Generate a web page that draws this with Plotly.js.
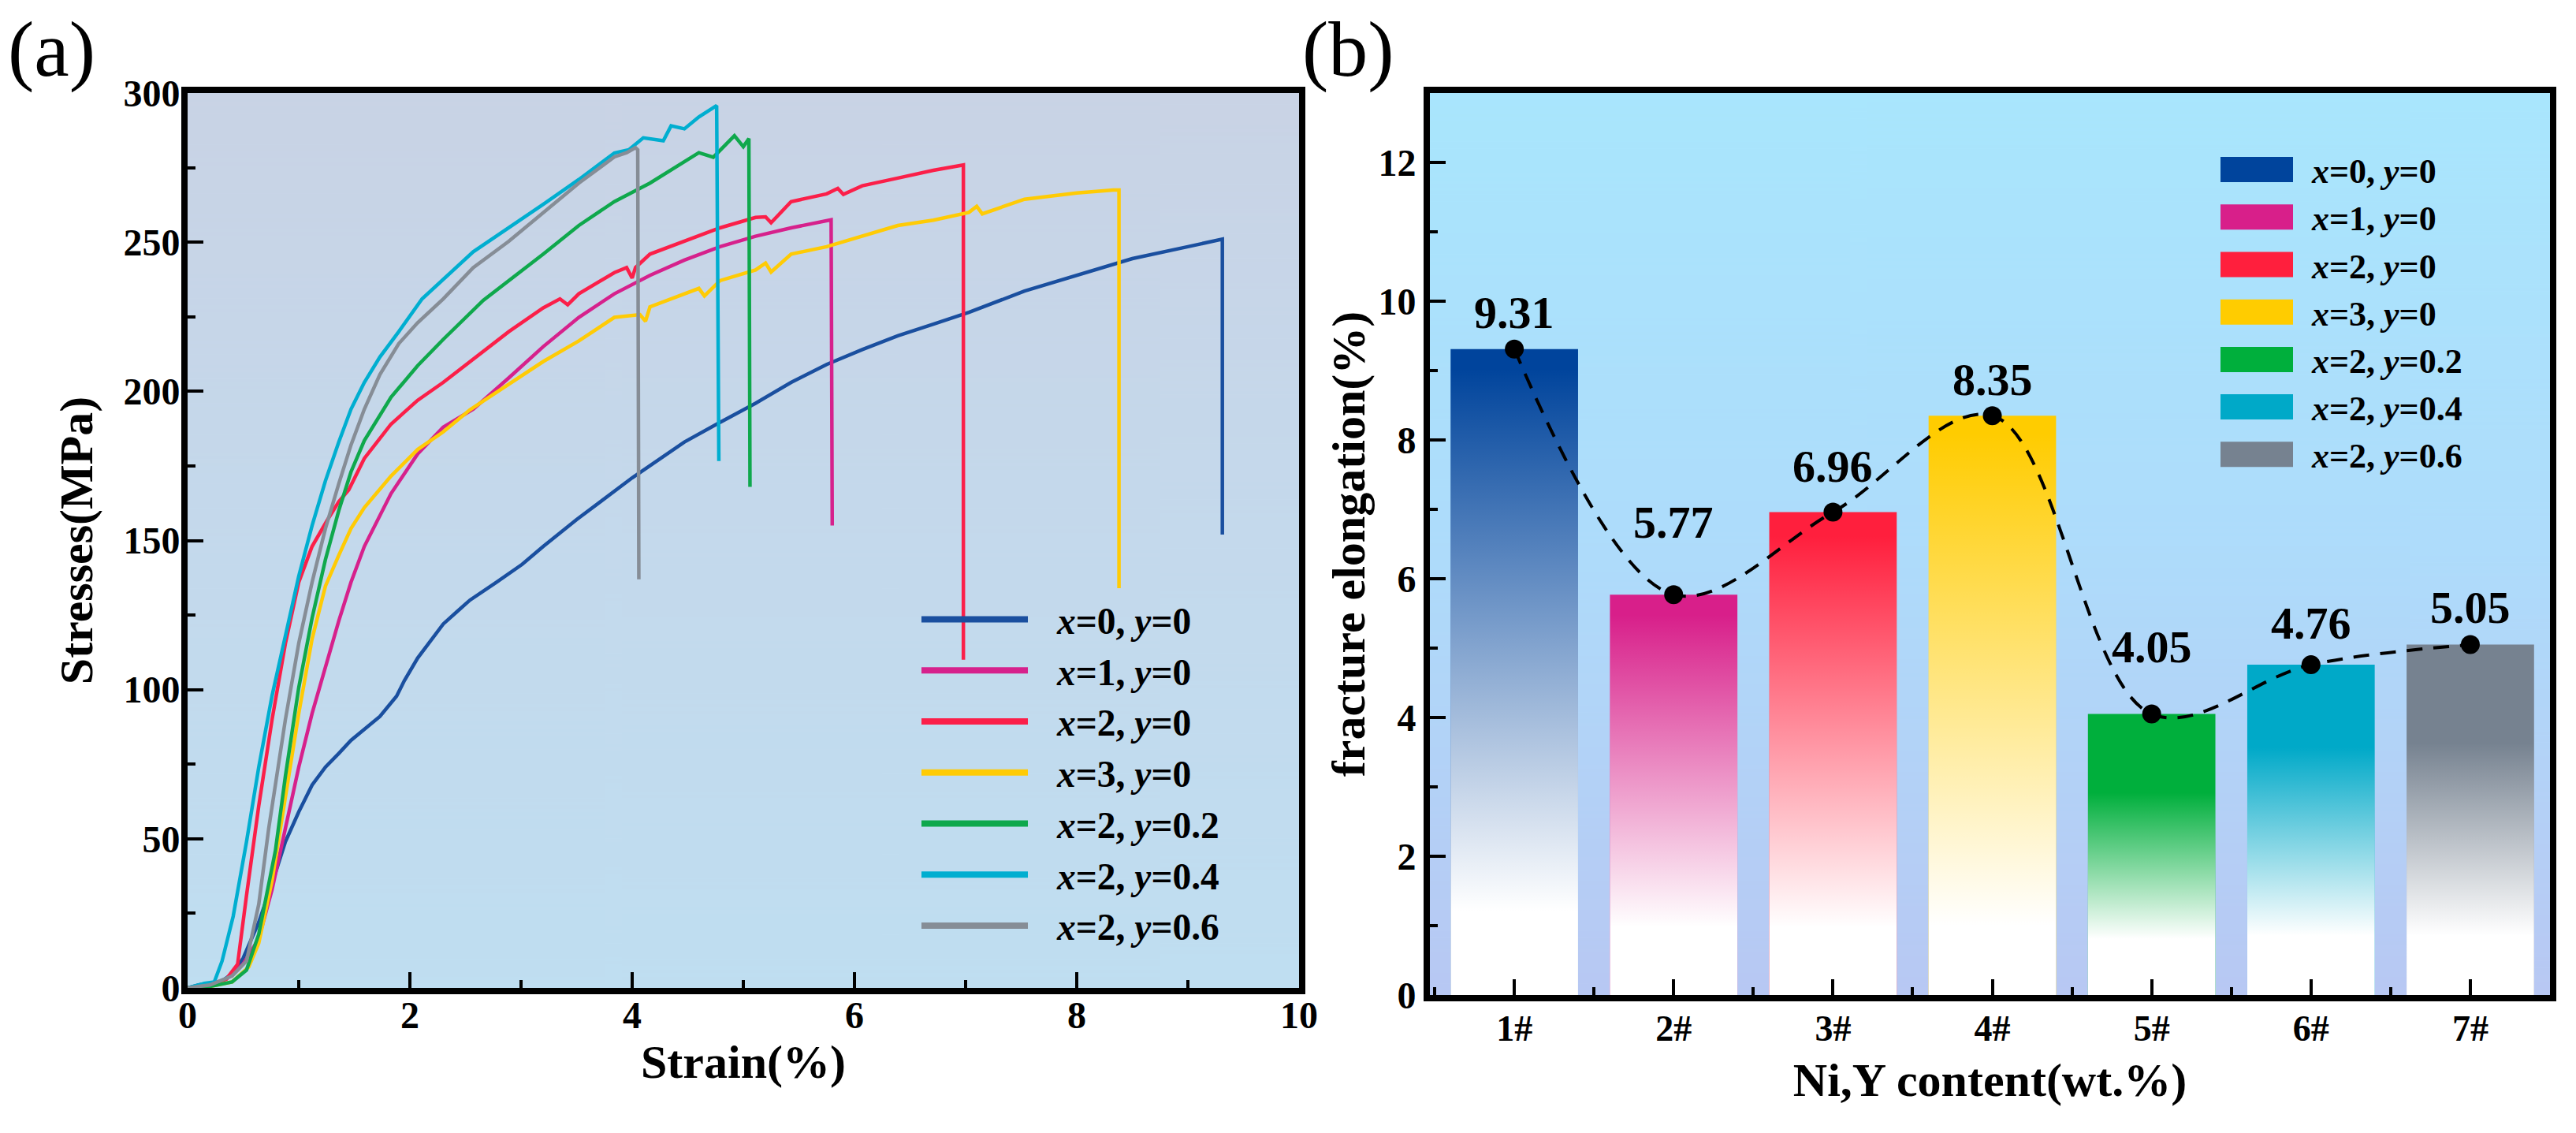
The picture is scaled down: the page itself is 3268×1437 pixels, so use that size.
<!DOCTYPE html>
<html>
<head>
<meta charset="utf-8">
<script src="https://cdn.plot.ly/plotly-3.0.1.min.js"></script>
<style>
  html, body { margin: 0; padding: 0; background: #ffffff; }
  #chart { width: 3268px; height: 1437px; }
</style>
</head>
<body>
<div id="chart"></div>
<script>
// ---------------- DATA: panel (a) stress-strain curves ----------------
const seriesNames = [
  '<i>x</i>=0, <i>y</i>=0', '<i>x</i>=1, <i>y</i>=0', '<i>x</i>=2, <i>y</i>=0', '<i>x</i>=3, <i>y</i>=0',
  '<i>x</i>=2, <i>y</i>=0.2', '<i>x</i>=2, <i>y</i>=0.4', '<i>x</i>=2, <i>y</i>=0.6'
];

const strain_x0y0 = [0, 0.1, 0.2, 0.3, 0.41, 0.5, 0.64, 0.76, 0.88, 1.0, 1.12, 1.24, 1.36, 1.47, 1.59, 1.73, 1.88, 1.95, 2.07, 2.18, 2.30, 2.42, 2.54, 2.78, 3.01, 3.2, 3.5, 4.0, 4.47, 4.76, 5.11, 5.43, 5.75, 6.07, 6.39, 6.71, 7.03, 7.53, 8.0, 8.5, 9.0, 9.29, 9.31, 9.31];
const stress_x0y0 = [0, 1, 1.5, 2, 5, 10, 22, 35, 49, 59, 68, 74, 78.6, 83, 86.7, 91, 97.8, 103, 110.6, 116, 122, 126, 130, 136, 142, 148, 157, 171, 183, 189, 196, 203, 209, 214, 218.6, 222.5, 226.5, 233.6, 239, 244.5, 248.5, 251, 251, 152];

const strain_x1y0 = [0, 0.2, 0.35, 0.5, 0.64, 0.76, 0.88, 1.0, 1.12, 1.24, 1.36, 1.47, 1.59, 1.83, 2.07, 2.30, 2.57, 2.89, 3.2, 3.52, 3.84, 4.16, 4.47, 4.79, 5.11, 5.43, 5.75, 5.79, 5.80];
const stress_x1y0 = [0, 1, 3, 8, 16.5, 33, 53.5, 74, 92, 108, 123, 136, 148, 165.7, 179, 188, 194, 204.5, 215, 224.8, 232.7, 238.9, 244, 248.5, 252, 254.8, 257, 257.5, 155];

const strain_x2y0 = [0, 0.2, 0.35, 0.45, 0.53, 0.64, 0.76, 0.88, 1.0, 1.12, 1.26, 1.36, 1.45, 1.59, 1.83, 2.07, 2.30, 2.57, 2.89, 3.2, 3.35, 3.42, 3.52, 3.84, 3.95, 4.0, 4.03, 4.16, 4.47, 4.79, 5.11, 5.2, 5.25, 5.43, 5.75, 5.85, 5.9, 6.07, 6.39, 6.71, 6.98, 6.98];
const stress_x2y0 = [0, 1, 3, 8, 31, 61, 90, 115.5, 136, 148, 157, 163, 167, 177.5, 189, 197, 203, 210.7, 220, 228, 231, 229, 232.7, 239.8, 241.5, 238, 241.5, 246, 250.3, 254.8, 258.3, 258.5, 256.5, 263.6, 266.2, 268, 266, 268.9, 271.5, 274.1, 275.9, 110];

const strain_x3y0 = [0, 0.2, 0.4, 0.55, 0.64, 0.76, 0.88, 1.0, 1.12, 1.24, 1.36, 1.47, 1.59, 1.83, 2.07, 2.30, 2.54, 2.78, 3.2, 3.52, 3.84, 4.07, 4.12, 4.16, 4.47, 4.6, 4.65, 4.79, 5.11, 5.2, 5.25, 5.43, 5.75, 6.07, 6.39, 6.71, 7.03, 7.1, 7.15, 7.53, 8.0, 8.33, 8.38, 8.38];
const stress_x3y0 = [0, 0.5, 2, 7, 15, 36, 64, 92, 117, 134.7, 145, 154, 161, 171.6, 180.5, 186.4, 193.8, 199.7, 210, 216.9, 224.8, 225.7, 223.5, 228.3, 232.8, 234.5, 232, 237.1, 240.7, 243, 240, 246, 248.5, 252, 255.6, 257.4, 260, 262, 259.5, 264.4, 266.5, 267.5, 267.5, 134];

const strain_x2y02 = [0, 0.2, 0.4, 0.53, 0.64, 0.79, 0.88, 1.0, 1.12, 1.24, 1.36, 1.47, 1.59, 1.71, 1.83, 2.07, 2.30, 2.66, 2.89, 3.2, 3.52, 3.84, 4.16, 4.47, 4.6, 4.73, 4.92, 5.0, 5.05, 5.06];
const stress_x2y02 = [0, 0.5, 2, 6, 18, 46, 71, 100.7, 124, 143.6, 160, 173, 183.5, 191, 198, 208.6, 217.4, 230.5, 237, 246, 255.6, 263.6, 269.8, 276.8, 280, 278.5, 285.7, 282, 284.7, 168];

const strain_x2y04 = [0, 0.15, 0.24, 0.31, 0.41, 0.53, 0.64, 0.76, 0.88, 1.0, 1.12, 1.24, 1.36, 1.47, 1.59, 1.73, 1.90, 2.11, 2.57, 2.89, 3.2, 3.52, 3.84, 3.97, 4.1, 4.28, 4.35, 4.47, 4.6, 4.76, 4.78];
const stress_x2y04 = [0, 1.5, 2, 9, 24, 49, 74, 98, 118, 138, 155, 170, 183, 194, 203, 211.5, 220, 231, 246.8, 254.8, 262.7, 271, 279.9, 281, 285, 284, 289, 288, 292, 295.8, 176.6];

const strain_x2y06 = [0, 0.2, 0.4, 0.53, 0.64, 0.73, 0.88, 1.0, 1.12, 1.24, 1.36, 1.47, 1.59, 1.73, 1.90, 2.07, 2.30, 2.57, 2.89, 3.2, 3.52, 3.84, 3.95, 4.03, 4.05, 4.06];
const stress_x2y06 = [0, 1, 4, 9, 28, 53.5, 90, 115.5, 136, 154, 169, 182, 194, 205.6, 216, 223, 231, 241.5, 250.3, 260, 269.8, 278.6, 280, 281.7, 281, 137];

// ---------------- DATA: panel (b) fracture elongation ----------------
const sampleLabels = ['1#', '2#', '3#', '4#', '5#', '6#', '7#'];
const elongation = [9.31, 5.77, 6.96, 8.35, 4.05, 4.76, 5.05];

// ---------------- STYLES ----------------
const lineColors = ['#1a4f9f', '#d6218c', '#fb1f49', '#ffcb05', '#0fa84c', '#00aed0', '#868d96'];
const barColors = ['#00449c', '#d81f8a', '#ff1f3d', '#ffcc00', '#00af3c', '#00a9c8', '#768290'];
const fadeWhiteTo = [0.13, 0.17, 0.14, 0.12, 0.20, 0.18, 0.17];
const fadeFullFrom = [0.97, 0.95, 0.95, 0.97, 0.72, 0.75, 0.72];
const labelShift = [46, 92, 58, 46, 85, 53, 47];

const FONT = 'Liberation Serif';

function gradientImage(stops) {
  const c = document.createElement('canvas');
  c.width = 4; c.height = 512;
  const ctx = c.getContext('2d');
  const g = ctx.createLinearGradient(0, 0, 0, 512);
  stops.forEach(s => g.addColorStop(s[0], s[1]));
  ctx.fillStyle = g;
  ctx.fillRect(0, 0, 4, 512);
  return c.toDataURL('image/png');
}

const strains = [strain_x0y0, strain_x1y0, strain_x2y0, strain_x3y0, strain_x2y02, strain_x2y04, strain_x2y06];
const stresses = [stress_x0y0, stress_x1y0, stress_x2y0, stress_x3y0, stress_x2y02, stress_x2y04, stress_x2y06];

const data = [];
strains.forEach((sx, i) => {
  data.push({
    type: 'scatter', mode: 'lines', x: sx, y: stresses[i],
    name: seriesNames[i], legend: 'legend',
    line: { color: lineColors[i], width: 4.5 },
    xaxis: 'x', yaxis: 'y', hoverinfo: 'skip'
  });
});

const idx = sampleLabels.map((_, i) => i);
const BW = 0.8;
// bars (solid top colour)
idx.forEach(i => {
  data.push({
    type: 'bar', x: [idx[i]], y: [elongation[i]], width: BW,
    name: seriesNames[i], legend: 'legend2',
    marker: { color: barColors[i], line: { width: 0 } },
    xaxis: 'x2', yaxis: 'y2', hoverinfo: 'skip'
  });
});
// white fade overlay for each bar, built from the same values
idx.forEach(i => {
  const l = idx[i] - BW / 2, r = idx[i] + BW / 2, v = elongation[i];
  data.push({
    type: 'scatter', mode: 'none', fill: 'toself',
    x: [l, l, r, r, l], y: [0, v, v, 0, 0],
    fillgradient: {
      type: 'vertical',
      colorscale: [[0, 'rgba(255,255,255,1)'], [fadeWhiteTo[i], 'rgba(255,255,255,1)'],
                   [fadeFullFrom[i], 'rgba(255,255,255,0)'], [1, 'rgba(255,255,255,0)']]
    },
    showlegend: false, xaxis: 'x2', yaxis: 'y2', hoverinfo: 'skip'
  });
});
// dashed trend line with markers
data.push({
  type: 'scatter', mode: 'lines+markers', x: idx, y: elongation,
  line: { shape: 'spline', smoothing: 1, color: '#000', width: 4, dash: '20px,14px' },
  marker: { color: '#000', size: 24 },
  showlegend: false, xaxis: 'x2', yaxis: 'y2', hoverinfo: 'skip'
});

const W = 3268, H = 1437;
const px = v => v / W, py = v => 1 - v / H;

const annotations = idx.map(i => ({
  xref: 'x2', yref: 'y2', x: idx[i], y: elongation[i],
  text: elongation[i].toFixed(2), showarrow: false,
  yanchor: 'middle', xanchor: 'center', yshift: labelShift[i],
  font: { family: FONT, size: 58, color: '#000', weight: 'bold' }
}));
annotations.push({ xref: 'paper', yref: 'paper', x: px(8), y: py(62), xanchor: 'left', yanchor: 'middle',
  text: '(a)', showarrow: false, font: { family: FONT, size: 100, color: '#000', weight: 'normal' } });
annotations.push({ xref: 'paper', yref: 'paper', x: px(1650), y: py(62), xanchor: 'left', yanchor: 'middle',
  text: '(b)', showarrow: false, font: { family: FONT, size: 100, color: '#000', weight: 'normal' } });

const axisCommon = {
  showline: true, linewidth: 8, linecolor: '#000', mirror: true,
  ticks: 'inside', ticklen: 20, tickwidth: 4, tickcolor: '#000',
  showgrid: false, zeroline: false, automargin: false,
  tickfont: { family: FONT, size: 48, color: '#000', weight: 'bold' }
};

const layout = {
  width: W, height: H,
  margin: { l: 0, r: 0, t: 0, b: 0 },
  paper_bgcolor: '#ffffff', plot_bgcolor: 'rgba(0,0,0,0)',
  font: { family: FONT, size: 48, color: '#000', weight: 'bold' },
  barmode: 'overlay',
  xaxis: Object.assign({}, axisCommon, {
    domain: [px(238), px(1648)], range: [0, 10], dtick: 2, tick0: 0,
    ticklabelstandoff: -15,
    minor: { dtick: 1, ticks: 'inside', ticklen: 10, tickwidth: 4, tickcolor: '#000' },
    title: { text: 'Strain(%)', standoff: 8, font: { family: FONT, size: 60, color: '#000', weight: 'bold' } },
    anchor: 'y'
  }),
  yaxis: Object.assign({}, axisCommon, {
    domain: [py(1253), py(118)], range: [0, 300], dtick: 50, tick0: 0,
    ticklabelstandoff: -8,
    minor: { dtick: 25, ticks: 'inside', ticklen: 10, tickwidth: 4, tickcolor: '#000' },
    title: { text: 'Stresses(MPa)', standoff: 22, font: { family: FONT, size: 60, color: '#000', weight: 'bold' } },
    anchor: 'x'
  }),
  xaxis2: Object.assign({}, axisCommon, {
    domain: [px(1814), px(3235)], range: [-0.53, 6.5],
    tickvals: idx, ticktext: sampleLabels,
    ticklabelstandoff: -5,
    minor: { dtick: 0.5, tick0: 0, ticks: 'inside', ticklen: 10, tickwidth: 4, tickcolor: '#000' },
    tickfont: { family: FONT, size: 46, color: '#000', weight: 'bold' },
    title: { text: 'Ni,Y content(wt.%)', standoff: 22, font: { family: FONT, size: 60, color: '#000', weight: 'bold' } },
    anchor: 'y2'
  }),
  yaxis2: Object.assign({}, axisCommon, {
    domain: [py(1262), py(118)], range: [0, 13], dtick: 2, tick0: 0,
    minor: { dtick: 1, ticks: 'inside', ticklen: 10, tickwidth: 4, tickcolor: '#000' },
    title: { text: 'fracture elongation(%)', standoff: 0, font: { family: FONT, size: 60, color: '#000', weight: 'bold' } },
    anchor: 'x2'
  }),
  legend: {
    x: px(1164), y: py(748), xanchor: 'left', yanchor: 'top',
    bgcolor: 'rgba(0,0,0,0)', borderwidth: 0, itemwidth: 167,
    font: { family: FONT, size: 47.5, color: '#000', weight: 'bold' },
    tracegroupgap: 0
  },
  legend2: {
    x: px(2812), y: py(180), xanchor: 'left', yanchor: 'top',
    bgcolor: 'rgba(0,0,0,0)', borderwidth: 0, itemwidth: 111,
    font: { family: FONT, size: 44, color: '#000', weight: 'bold' },
    tracegroupgap: 0
  },
  images: [
    { source: gradientImage([[0, '#c9d3e5'], [0.5, '#c4d9ec'], [1, '#bfdef1']]),
      xref: 'x domain', yref: 'y domain', x: 0, y: 1, sizex: 1, sizey: 1,
      xanchor: 'left', yanchor: 'top', sizing: 'stretch', layer: 'below' },
    { source: gradientImage([[0, '#a9e6fd'], [0.5, '#aedcfb'], [1, '#b8c8f3']]),
      xref: 'x2 domain', yref: 'y2 domain', x: 0, y: 1, sizex: 1, sizey: 1,
      xanchor: 'left', yanchor: 'top', sizing: 'stretch', layer: 'below' }
  ],
  annotations: annotations
};

const gd = document.getElementById('chart');
Plotly.newPlot(gd, data, layout, { staticPlot: true, displayModeBar: false }).then(function () {
  gd.querySelectorAll('g.legend .legendlines path').forEach(function (p) {
    p.setAttribute('d', 'M5,0h135');
    p.style.strokeWidth = '8px';
  });
  gd.querySelectorAll('g.legend2 .legendpoints path').forEach(function (p) {
    p.setAttribute('transform', 'translate(0,0)');
    p.setAttribute('d', 'M5,-16H97V16H5Z');
  });
});
</script>
</body>
</html>
